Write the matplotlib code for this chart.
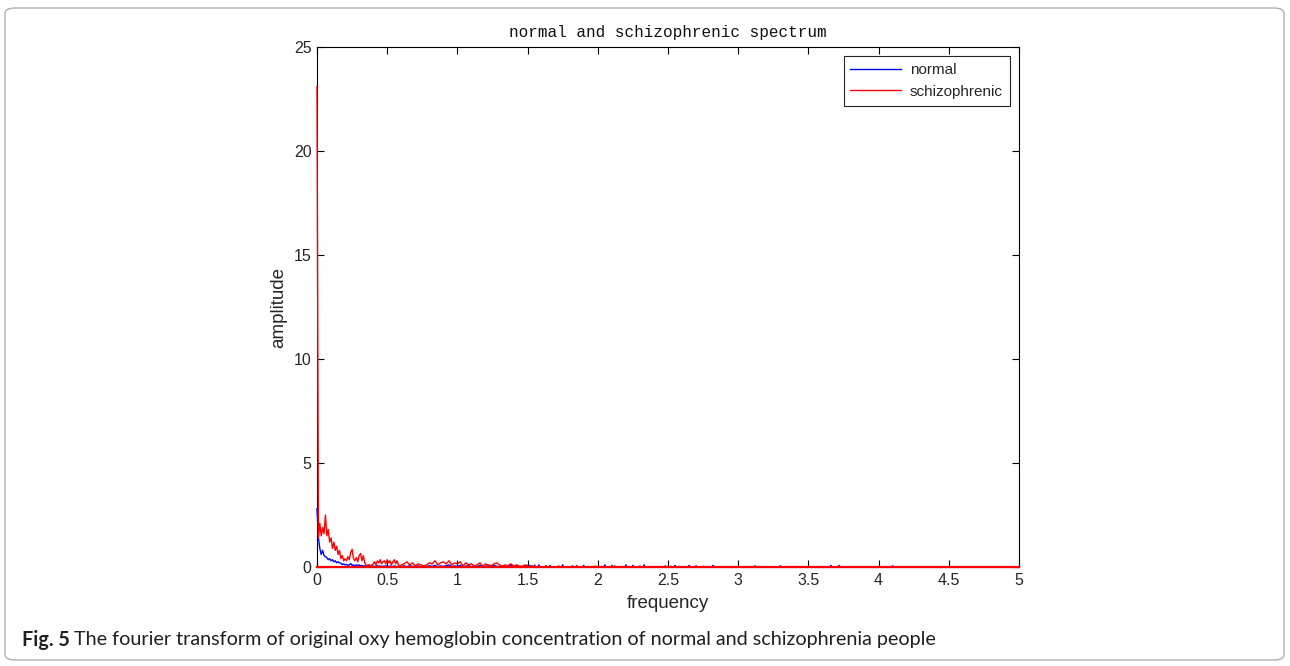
import numpy as np
import matplotlib
matplotlib.use("Agg")
import matplotlib.pyplot as plt
from matplotlib.patches import FancyBboxPatch

plt.rcParams["font.family"] = ["Liberation Sans", "DejaVu Sans"]

# frequency grid of the low band (FFT bins) and hand-read amplitudes
low_freq = np.round(np.arange(0.0, 0.605, 0.01), 3)
red_low = [23.1, 1.4, 2.1, 1.5, 1.9, 1.6, 2.5, 1.5, 1.8, 1.2,
           1.4, 0.9, 1.2, 0.8, 1.0, 0.6, 0.8, 0.4, 0.55, 0.3,
           0.4, 0.3, 0.5, 0.35, 0.7, 0.85, 0.4, 0.3, 0.45, 0.25,
           0.55, 0.65, 0.3, 0.55, 0.2, 0.1, 0.05, 0.12, 0.05, 0.1,
           0.15, 0.25, 0.1, 0.3, 0.2, 0.35, 0.15, 0.25, 0.3, 0.15,
           0.35, 0.2, 0.3, 0.1, 0.25, 0.35, 0.15, 0.3, 0.1, 0.05, 0.1]
blue_low = [2.8, 1.4, 0.9, 0.6, 0.8, 0.55, 0.5, 0.45, 0.35, 0.4,
            0.3, 0.35, 0.25, 0.3, 0.2, 0.25, 0.2, 0.18, 0.12, 0.15,
            0.1, 0.12, 0.08, 0.1, 0.16, 0.08, 0.1, 0.06, 0.1, 0.08,
            0.1, 0.05, 0.08, 0.04, 0.06, 0.05, 0.03, 0.04, 0.02, 0.03,
            0.05, 0.02, 0.04, 0.06, 0.03, 0.05, 0.02, 0.04, 0.03, 0.05,
            0.06, 0.02, 0.04, 0.03, 0.02, 0.05, 0.03, 0.02, 0.04, 0.02, 0.03]

mid_freq = np.round(np.arange(0.62, 1.505, 0.02), 3)
red_mid = [0.15, 0.25, 0.1, 0.2, 0.05, 0.15, 0.1, 0.05, 0.1, 0.2,
           0.15, 0.3, 0.1, 0.2, 0.25, 0.15, 0.3, 0.1, 0.2, 0.15,
           0.25, 0.05, 0.2, 0.1, 0.15, 0.05, 0.1, 0.2, 0.05, 0.15,
           0.1, 0.05, 0.15, 0.2, 0.1, 0.05, 0.1, 0.05, 0.15, 0.05,
           0.1, 0.05, 0.02, 0.1, 0.05]
blue_mid = [0.05, 0.02, 0.06, 0.03, 0.02, 0.05, 0.02, 0.04, 0.02, 0.06,
            0.03, 0.08, 0.02, 0.05, 0.03, 0.06, 0.1, 0.02, 0.05, 0.03,
            0.08, 0.02, 0.04, 0.06, 0.02, 0.05, 0.02, 0.07, 0.02, 0.04,
            0.05, 0.02, 0.08, 0.03, 0.02, 0.05, 0.02, 0.06, 0.1, 0.02,
            0.05, 0.03, 0.02, 0.06, 0.08]

# sparse small spikes above 1.5 Hz
red_tail_freq = [1.55, 1.63, 1.72, 1.85, 1.98, 2.12, 2.3, 2.52, 2.75, 3.1, 3.4, 3.72]
red_tail_amp = [0.1, 0.08, 0.06, 0.08, 0.05, 0.06, 0.05, 0.04, 0.04, 0.03, 0.03, 0.03]
blue_tail_freq = [1.58, 1.66, 1.75, 1.82, 1.9, 2.05, 2.1, 2.2, 2.25, 2.33, 2.48,
                  2.55, 2.65, 2.7, 2.82, 3.12, 3.3, 3.66, 3.72, 4.1]
blue_tail_amp = [0.1, 0.08, 0.1, 0.06, 0.08, 0.1, 0.08, 0.1, 0.08, 0.1, 0.06,
                 0.08, 0.08, 0.06, 0.08, 0.06, 0.06, 0.08, 0.08, 0.06]

x_ticks = [0, 0.5, 1, 1.5, 2, 2.5, 3, 3.5, 4, 4.5, 5]
x_labels = ["0", "0.5", "1", "1.5", "2", "2.5", "3", "3.5", "4", "4.5", "5"]
y_ticks = [0, 5, 10, 15, 20, 25]


def build(freq_a, amp_a, freq_b, amp_b, tail_f, tail_a):
    f = list(freq_a) + list(freq_b)
    a = list(amp_a) + list(amp_b)
    for tf, ta in zip(tail_f, tail_a):
        f += [tf - 0.006, tf, tf + 0.006]
        a += [0.0, ta, 0.0]
    f.append(5.0)
    a.append(0.0)
    return np.array(f), np.array(a)


red_f, red_a = build(low_freq, red_low, mid_freq, red_mid, red_tail_freq, red_tail_amp)
blue_f, blue_a = build(low_freq, blue_low, mid_freq, blue_mid, blue_tail_freq, blue_tail_amp)

fig = plt.figure(figsize=(12.9, 6.66), dpi=100)
ax = fig.add_axes([317 / 1290, 99 / 666, 702 / 1290, 520 / 666])

ax.plot(blue_f, blue_a, color="#0000ff", linewidth=1.0, label="normal", zorder=3, clip_on=False)
ax.plot(red_f, red_a, color="#ff0000", linewidth=1.0, label="schizophrenic", zorder=4, clip_on=False)
ax.axhline(0, color="#ff0000", linewidth=1.6, zorder=4, clip_on=False)

ax.set_xlim(0, 5)
ax.set_ylim(0, 25)
ax.set_xticks(x_ticks)
ax.set_xticklabels(x_labels)
ax.set_yticks(y_ticks)
ax.tick_params(direction="in", top=True, right=True, length=5, width=0.8,
               labelsize=11.5, labelcolor="#262626", pad=4)
for s in ax.spines.values():
    s.set_linewidth(0.8)
    s.set_color("#000000")

ax.set_xlabel("frequency", fontsize=13.5, color="#262626", labelpad=5)
ax.set_ylabel("amplitude", fontsize=13.5, color="#262626", labelpad=5)
ax.set_title("normal and schizophrenic spectrum", family="Liberation Mono",
             fontsize=11.5, color="#111111", pad=7)

leg = ax.legend(loc="upper right", fontsize=11, handlelength=3.3, fancybox=False,
                framealpha=1, edgecolor="#262626", borderpad=0.45, labelspacing=0.5,
                borderaxespad=0.6, handletextpad=0.6)
leg.get_frame().set_linewidth(0.8)
for t in leg.get_texts():
    t.set_color("#262626")

# outer rounded frame and caption
frame = FancyBboxPatch((5 / 1290, 6 / 666), 1279 / 1290, 652 / 666,
                       boxstyle="round,pad=0,rounding_size=0.008",
                       transform=fig.transFigure, facecolor="none",
                       edgecolor="#b0b0b0", linewidth=1.0)
fig.patches.append(frame)

renderer = fig.canvas.get_renderer()
t1 = fig.text(22 / 1290, (666 - 640) / 666, "Fig. 5", family="Lato",
              fontweight="bold", fontsize=14.2, va="center", ha="left", color="#231f20")
bb = t1.get_window_extent(renderer)
fig.text((bb.x1 + 4) / 1290, (666 - 640) / 666,
         "The fourier transform of original oxy hemoglobin concentration of normal and schizophrenia people",
         family="Lato", fontsize=14.2, va="center", ha="left", color="#231f20")

fig.savefig("out.png", dpi=100)
